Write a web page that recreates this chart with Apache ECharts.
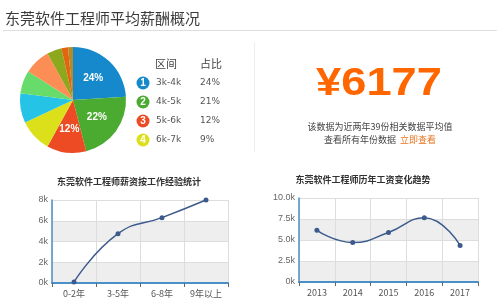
<!DOCTYPE html>
<html>
<head>
<meta charset="utf-8">
<script src="https://cdn.jsdelivr.net/npm/echarts@6/dist/echarts.min.js"></script>
<style>
  html, body { margin: 0; padding: 0; background: #fff; }
  #main { width: 499px; height: 306px; }
</style>
</head>
<body>
<div id="main"></div>
<script>
// 薪资区间分布
const pieNames = ['3k-4k', '4k-5k', '5k-6k', '6k-7k', '7k-8k', '8k-9k', '9k-10k', '10k-15k', '15k-20k', '20k以上']
const pieValues = [24, 22, 12, 10, 9, 7, 8, 4.5, 2, 1.5]
const pieColors = ['#1589cb', '#4bab30', '#ec4b23', '#dbe01b', '#25c3e6', '#68dc6a', '#fb8d55', '#8ea81e', '#e2640f', '#b38a2a']

// 右侧图例（区间 / 占比）
const legendRanges = ['3k-4k', '4k-5k', '5k-6k', '6k-7k']
const legendShares = ['24%', '21%', '12%', '9%']

// 工作经验
const expCats = ['0-2年', '3-5年', '6-8年', '9年以上']
const expValues = [100, 4750, 6300, 8000]

// 历年工资
const yearCats = ['2013', '2014', '2015', '2016', '2017']
const yearValues = [6150, 4700, 5900, 7650, 4350]

const avgSalary = '¥6177'

const cjk = '"Noto Sans CJK SC", "Liberation Sans", sans-serif'
const axisBlue = '#4a8fc8'
const lineColor = '#3d5a8c'

const chart = echarts.init(document.getElementById('main'))

function legendGraphics() {
  const items = [
    { type: 'text', left: 155, top: 58, style: { text: '区间', font: '11px ' + cjk, fill: '#444' } },
    { type: 'text', left: 200, top: 58, style: { text: '占比', font: '11px ' + cjk, fill: '#444' } },
  ]
  legendRanges.forEach((r, i) => {
    const cy = 83 + i * 19
    items.push({ type: 'circle', shape: { cx: 143, cy: cy, r: 6.5 }, style: { fill: pieColors[i] } })
    items.push({
      type: 'text', x: 143, y: cy,
      style: { text: String(i + 1), font: 'bold 10px "Liberation Sans", sans-serif', fill: '#fff', align: 'center', verticalAlign: 'middle' },
    })
    items.push({
      type: 'text', x: 156, y: cy,
      style: { text: r, font: '9px "DejaVu Sans", sans-serif', fill: '#555', verticalAlign: 'middle' },
    })
    items.push({
      type: 'text', x: 200, y: cy,
      style: { text: legendShares[i], font: '9px "DejaVu Sans", sans-serif', fill: '#555', verticalAlign: 'middle' },
    })
  })
  return items
}

function lineAxes(cats, max, interval, fmt) {
  return {
    x: {
      type: 'category',
      data: cats,
      boundaryGap: true,
      axisLine: { lineStyle: { color: axisBlue, width: 2 } },
      axisTick: { show: true, length: 4, lineStyle: { color: '#666' } },
      axisLabel: { color: '#555', fontSize: 9, fontFamily: cjk, margin: 6 },
      splitLine: { show: true, lineStyle: { color: '#ddd' } },
    },
    y: {
      type: 'value',
      min: 0,
      max: max,
      interval: interval,
      axisLine: { show: true, lineStyle: { color: axisBlue, width: 1.5 } },
      axisTick: { show: false },
      axisLabel: { color: '#666', fontSize: 9, fontFamily: '"Liberation Sans", sans-serif', formatter: fmt, margin: 4 },
      splitLine: { show: true, lineStyle: { color: '#ddd' } },
      splitArea: { show: true, areaStyle: { color: ['#eeeeee', '#ffffff'] } },
    },
  }
}

const expAxes = lineAxes(expCats, 8000, 2000, (v) => v / 1000 + 'k')
const yearAxes = lineAxes(yearCats, 10000, 2500, (v) => (v === 0 ? '0k' : (v / 1000).toFixed(1) + 'k'))

const option = {
  animation: false,
  title: [
    {
      text: '东莞软件工程师平均薪酬概况',
      left: 5, top: 11, padding: 0,
      textStyle: { fontFamily: cjk, fontSize: 15, fontWeight: 'normal', color: '#3a3a3a' },
    },
    {
      text: '该数据为近两年39份相关数据平均值\n查看所有年份数据  {link|立即查看}',
      left: 380, top: 120, padding: 0, textAlign: 'center',
      textStyle: {
        fontFamily: cjk, fontSize: 9, fontWeight: 'normal', color: '#444', lineHeight: 13, align: 'center',
        rich: { link: { color: '#e8731e', fontSize: 9, fontFamily: cjk } },
      },
    },
    {
      text: '东莞软件工程师薪资按工作经验统计',
      left: 129, top: 177, padding: 0, textAlign: 'center',
      textStyle: { fontFamily: cjk, fontSize: 9, fontWeight: 'bold', color: '#333' },
    },
    {
      text: '东莞软件工程师历年工资变化趋势',
      left: 363, top: 175, padding: 0, textAlign: 'center',
      textStyle: { fontFamily: cjk, fontSize: 9, fontWeight: 'bold', color: '#333' },
    },
  ],
  graphic: [
    { type: 'line', shape: { x1: 3, y1: 30.5, x2: 497, y2: 30.5 }, style: { stroke: '#dedede', lineWidth: 1 } },
    { type: 'line', shape: { x1: 254.5, y1: 42, x2: 254.5, y2: 152 }, style: { stroke: '#eeeeee', lineWidth: 1 } },
    {
      type: 'text', x: 379, y: 84, scaleX: 1.16, originX: 0, originY: 0,
      style: {
        text: avgSalary, font: 'bold 39px "Liberation Sans", sans-serif', fill: '#ff6600',
        align: 'center', verticalAlign: 'middle',
      },
    },
    ...legendGraphics(),
  ],
  grid: [
    { left: 52, right: 271, top: 200, bottom: 23 },
    { left: 299, right: 21, top: 198, bottom: 24 },
  ],
  xAxis: [
    Object.assign({ gridIndex: 0 }, expAxes.x),
    Object.assign({ gridIndex: 1 }, yearAxes.x),
  ],
  yAxis: [
    Object.assign({ gridIndex: 0 }, expAxes.y),
    Object.assign({ gridIndex: 1 }, yearAxes.y),
  ],
  series: [
    {
      type: 'pie',
      center: [73, 100],
      radius: 53,
      startAngle: 90,
      clockwise: true,
      silent: true,
      label: {
        position: 'inside',
        formatter: (p) => Math.round(p.percent) + '%',
        color: '#fff',
        fontSize: 10,
        fontWeight: 'bold',
        fontFamily: '"Liberation Sans", sans-serif',
      },
      labelLine: { show: false },
      itemStyle: { borderWidth: 0 },
      data: pieValues.map((v, i) => ({
        name: pieNames[i],
        value: v,
        itemStyle: { color: pieColors[i] },
        label: { show: i < 3 },
      })),
    },
    {
      type: 'line',
      xAxisIndex: 0,
      yAxisIndex: 0,
      data: expValues,
      smooth: true,
      symbol: 'circle',
      symbolSize: 5,
      lineStyle: { color: lineColor, width: 1.5 },
      itemStyle: { color: lineColor },
    },
    {
      type: 'line',
      xAxisIndex: 1,
      yAxisIndex: 1,
      data: yearValues,
      smooth: true,
      symbol: 'circle',
      symbolSize: 5,
      lineStyle: { color: lineColor, width: 1.5 },
      itemStyle: { color: lineColor },
    },
  ],
}

chart.setOption(option)
</script>
</body>
</html>
